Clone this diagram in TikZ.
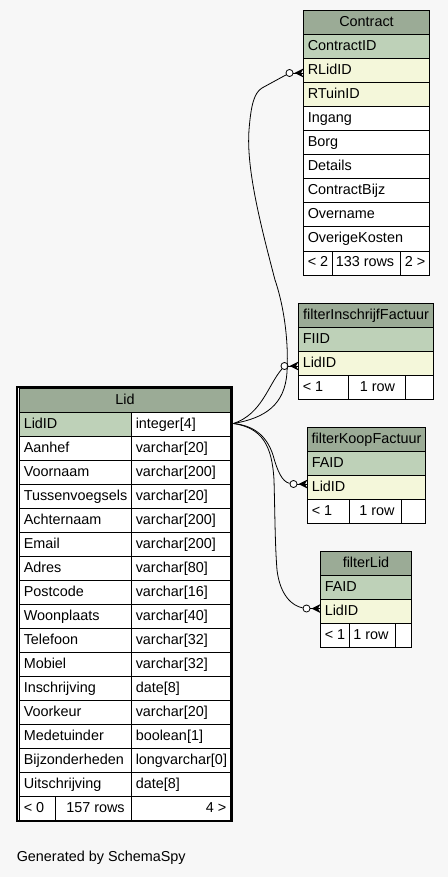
\documentclass[tikz,border=0pt]{standalone}
\usepackage{fontspec}
\setmainfont{Liberation Sans}
\usetikzlibrary{arrows.meta}

\definecolor{bgcol}{HTML}{F7F7F7}
\definecolor{headcol}{HTML}{9BAB96}
\definecolor{pkcol}{HTML}{BED1B8}
\definecolor{fkcol}{HTML}{F4F7DA}

\tikzset{
  cell/.style={draw=black, line width=0.75pt},
  celltext/.style={anchor=base west, inner sep=0pt, font=\fontsize{10.8}{13}\selectfont},
  headtext/.style={anchor=base, inner sep=0pt, font=\fontsize{10.8}{13}\selectfont},
  righttext/.style={anchor=base east, inner sep=0pt, font=\fontsize{10.8}{13}\selectfont},
  zerodot/.style={circle, draw, fill=white, inner sep=0pt, minimum size=5.3pt, line width=0.6pt},
  relation/.style={line width=0.6pt},
}

\begin{document}
\begin{tikzpicture}[x=0.75pt,y=-0.75pt]
  % canvas
  \useasboundingbox[fill=bgcol] (0,0) rectangle (448,877);

  % Contract
  \draw[cell,fill=headcol] (303.5,11) rectangle (429.5,35);
  \node[headtext] (contract-head) at (366.5,26.5) {Contract};
  \foreach \fname/\fcol [count=\i from 0] in {ContractID/pkcol,RLidID/fkcol,RTuinID/fkcol,
      Ingang/white,Borg/white,Details/white,ContractBijz/white,Overname/white,OverigeKosten/white} {
    \draw[cell,fill=\fcol] (303.5,35+24*\i) rectangle (429.5,59+24*\i);
    \node[celltext] (contract-\i) at (307.5,50.5+24*\i) {\fname};
  }
  \draw[cell,fill=white] (303.5,251) rectangle (429.5,275);
  \draw[cell] (332,251) -- (332,275) (400,251) -- (400,275);
  \node[celltext] (contract-prev) at (307.5,266.5) {< 2};
  \node[headtext] (contract-rows) at (365,266.5) {133 rows};
  \node[righttext] (contract-next) at (425.5,266.5) {2 >};

  % filterInschrijfFactuur
  \draw[cell,fill=headcol] (298.5,303.5) rectangle (433.5,327.5);
  \draw[cell,fill=pkcol] (298.5,327.5) rectangle (433.5,351.5);
  \draw[cell,fill=fkcol] (298.5,351.5) rectangle (433.5,375.5);
  \draw[cell,fill=white] (298.5,375.5) rectangle (433.5,399.5);
  \draw[cell] (348.5,375.5) -- (348.5,399.5) (405,375.5) -- (405,399.5);
  \node[headtext] (fif-head) at (366,319) {filterInschrijfFactuur};
  \node[celltext] (fif-0) at (302.5,343) {FIID};
  \node[celltext] (fif-1) at (302.5,367) {LidID};
  \node[celltext] (fif-prev) at (302.5,391) {< 1};
  \node[headtext] (fif-rows) at (377.5,391) {1 row};

  % filterKoopFactuur
  \draw[cell,fill=headcol] (307.5,427.5) rectangle (425.5,451.5);
  \draw[cell,fill=pkcol] (307.5,451.5) rectangle (425.5,475.5);
  \draw[cell,fill=fkcol] (307.5,475.5) rectangle (425.5,499.5);
  \draw[cell,fill=white] (307.5,499.5) rectangle (425.5,523.5);
  \draw[cell] (349.5,499.5) -- (349.5,523.5) (401.5,499.5) -- (401.5,523.5);
  \node[headtext] (fkf-head) at (366.5,443) {filterKoopFactuur};
  \node[celltext] (fkf-0) at (311.5,467) {FAID};
  \node[celltext] (fkf-1) at (311.5,491) {LidID};
  \node[celltext] (fkf-prev) at (311.5,515) {< 1};
  \node[headtext] (fkf-rows) at (377,515) {1 row};

  % filterLid
  \draw[cell,fill=headcol] (320.5,551.5) rectangle (411.5,575.5);
  \draw[cell,fill=pkcol] (320.5,575.5) rectangle (411.5,599.5);
  \draw[cell,fill=fkcol] (320.5,599.5) rectangle (411.5,623.5);
  \draw[cell,fill=white] (320.5,623.5) rectangle (411.5,647.5);
  \draw[cell] (349.5,623.5) -- (349.5,647.5) (395.5,623.5) -- (395.5,647.5);
  \node[headtext] (flid-head) at (366,567) {filterLid};
  \node[celltext] (flid-0) at (324.5,591) {FAID};
  \node[celltext] (flid-1) at (324.5,615) {LidID};
  \node[celltext] (flid-prev) at (324.5,639) {< 1};
  \node[headtext] (flid-rows) at (371,639) {1 row};

  % Lid (the table in focus)
  \draw[cell,fill=headcol] (19.5,388.5) rectangle (230.5,412.5);
  \node[headtext] (lid-head) at (125,404) {Lid};
  \foreach \fname/\ftype/\fcol [count=\i from 0] in {LidID/integer[4]/pkcol,
      Aanhef/varchar[20]/white, Voornaam/varchar[200]/white, Tussenvoegsels/varchar[20]/white,
      Achternaam/varchar[200]/white, Email/varchar[200]/white, Adres/varchar[80]/white,
      Postcode/varchar[16]/white, Woonplaats/varchar[40]/white, Telefoon/varchar[32]/white,
      Mobiel/varchar[32]/white, Inschrijving/date[8]/white, Voorkeur/varchar[20]/white,
      Medetuinder/boolean[1]/white, Bijzonderheden/longvarchar[0]/white,
      Uitschrijving/date[8]/white} {
    \draw[cell,fill=\fcol] (19.5,412.5+24*\i) rectangle (131.5,436.5+24*\i);
    \draw[cell,fill=white] (131.5,412.5+24*\i) rectangle (230.5,436.5+24*\i);
    \node[celltext] (lid-name-\i) at (23.5,428+24*\i) {\fname};
    \node[celltext] (lid-type-\i) at (135.5,428+24*\i) {\ftype};
  }
  \draw[cell,fill=white] (19.5,796.5) rectangle (230.5,820.5);
  \draw[cell] (55,796.5) -- (55,820.5) (131.5,796.5) -- (131.5,820.5);
  \node[celltext] (lid-prev) at (23.5,812) {< 0};
  \node[headtext] (lid-rows) at (95.5,812) {157 rows};
  \node[righttext] (lid-next) at (226.5,812) {4 >};
  \draw[line width=1.9pt] (17.2,386.8) rectangle (232.2,821.2);

  % relation ends
  \coordinate (lid-out) at (233.5,423.5);
  \coordinate (con-in) at (303.5,73);
  \coordinate (fif-in) at (298.5,366);
  \coordinate (fkf-in) at (307.5,484);
  \coordinate (flid-in) at (320.5,608.5);
  \node[zerodot] (con-o) at (289.5,73) {};
  \node[zerodot] (fif-o) at (284.5,366) {};
  \node[zerodot] (fkf-o) at (293.5,484) {};
  \node[zerodot] (flid-o) at (306.5,608.5) {};

  % relations, Lid.LidID to each child
  \draw[relation] (lid-out) .. controls (265,418) and (285,405) .. (287,372)
    .. controls (289,335) and (282,300) .. (275,280)
    .. controls (262,230) and (246,170) .. (249,130)
    .. controls (251,105) and (254,93) .. (262,88) -- (con-o);
  \draw[relation] (lid-out) .. controls (262,414) and (268,385) .. (fif-o);
  \draw[relation] (lid-out) .. controls (258,426) and (268,440) .. (273,455)
    .. controls (277,470) and (282,482) .. (fkf-o);
  \draw[relation] (lid-out) .. controls (262,428) and (272,445) .. (274,480)
    .. controls (275,515) and (275,545) .. (277,570)
    .. controls (280,595) and (292,606) .. (flid-o);

  % zero-or-many ends
  \foreach \t in {con,fif,fkf,flid} {
    \draw[relation] (\t-o) -- (\t-in);
    \fill (\t-in) ++(-9,0) -- ++(9,-4.5) -- ++(-2.5,4.5) -- ++(2.5,4.5) -- cycle;
  }

  \node[celltext] (credit) at (16.5,861.5) {Generated by SchemaSpy};
\end{tikzpicture}
\end{document}
